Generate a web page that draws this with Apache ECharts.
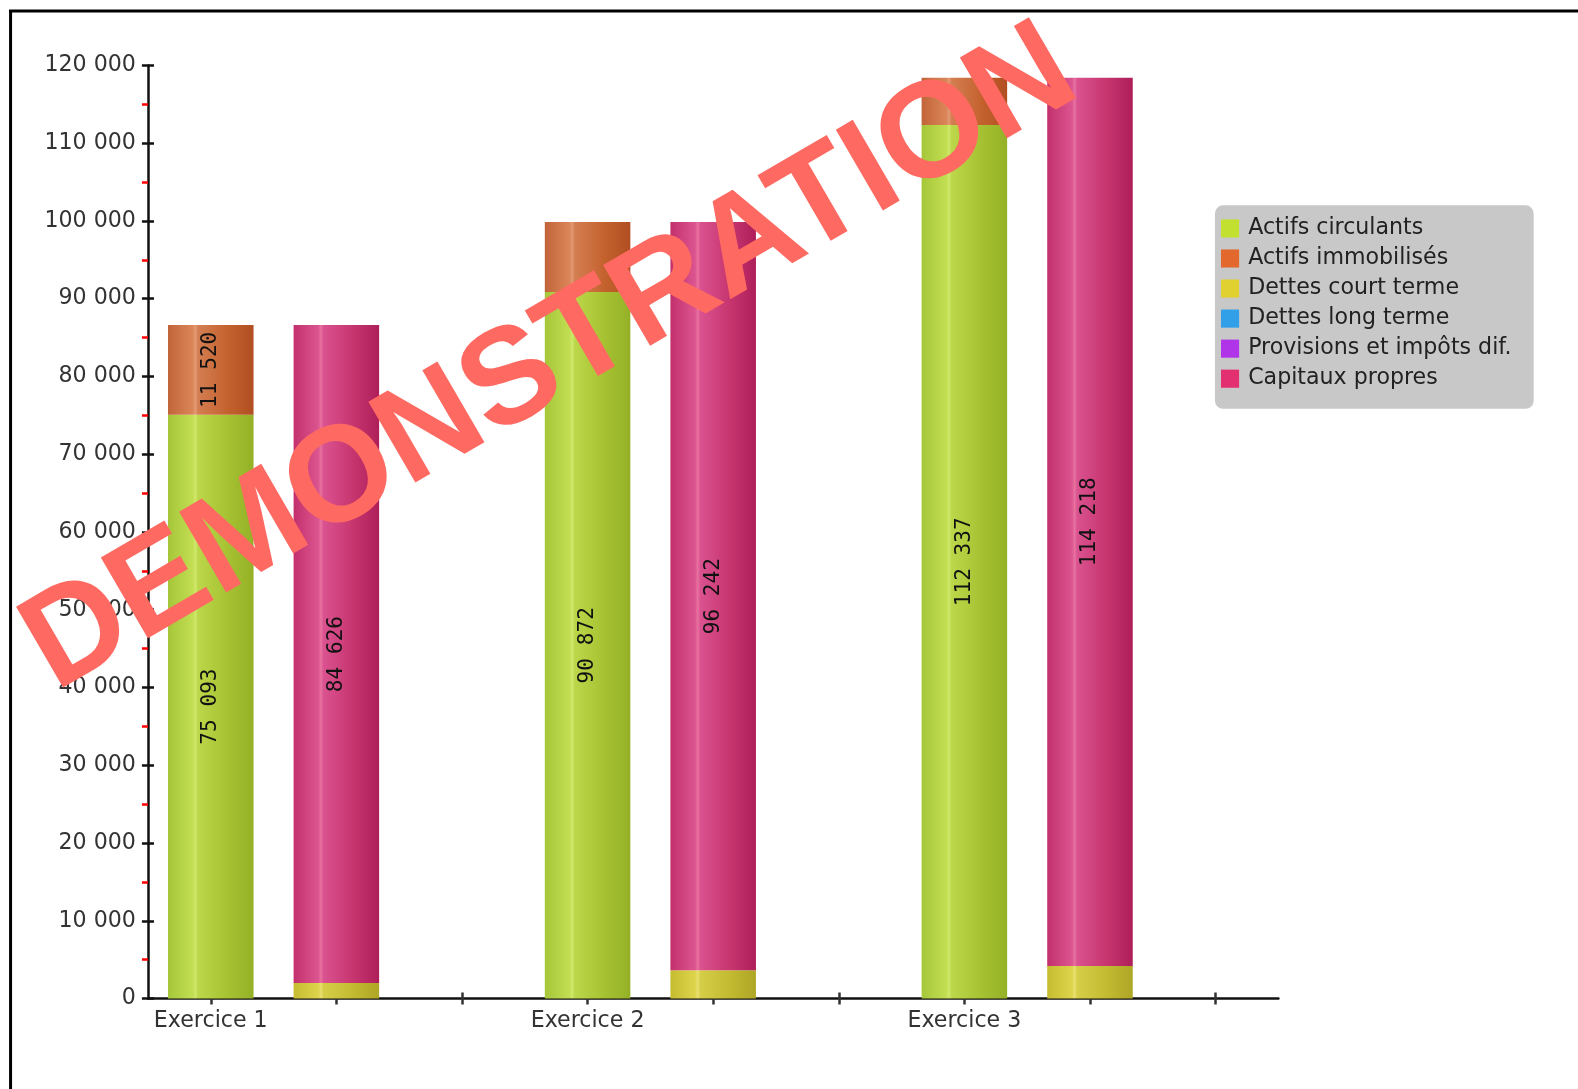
<!DOCTYPE html>
<html>
<head>
<meta charset="utf-8">
<script src="https://cdn.jsdelivr.net/npm/echarts@6/dist/echarts.min.js"></script>
<style>
  html, body { margin: 0; padding: 0; background: #fff; overflow: hidden; }
  #chart { width: 100vw; height: 100vh; }
</style>
</head>
<body>
<div id="chart"></div>
<script>
// ---- Data ----
var categories = ['Exercice 1', 'Exercice 2', 'Exercice 3'];
var actifsCirculants = [75093, 90872, 112337];
var actifsImmobilises = [11520, 8995, 6081];
var dettesCourtTerme = [1987, 3625, 4200];
var dettesLongTerme = [0, 0, 0];
var provisions = [0, 0, 0];
var capitauxPropres = [84626, 96242, 114218];
var yTicks = [0, 10000, 20000, 30000, 40000, 50000, 60000, 70000, 80000, 90000, 100000, 110000, 120000];
var seriesNames = ['Actifs circulants', 'Actifs immobilisés', 'Dettes court terme', 'Dettes long terme', 'Provisions et impôts dif.', 'Capitaux propres'];

// ---- helpers ----
function fmt(v) { return String(v).replace(/\B(?=(\d{3})+(?!\d))/g, ' '); }
var slotLabels = [];
categories.forEach(function (c) { slotLabels.push(c, '', ''); });
function slots(arr, offset) {
  var out = [];
  for (var i = 0; i < categories.length * 3; i++) out.push(null);
  arr.forEach(function (v, g) { out[g * 3 + offset] = v; });
  return out;
}
function grad(c0, c1, c2, c3, c4, c5) {
  return new echarts.graphic.LinearGradient(0, 0, 1, 0, [
    { offset: 0, color: c0 }, { offset: 0.29, color: c1 }, { offset: 0.32, color: c2 },
    { offset: 0.35, color: c3 }, { offset: 0.7, color: c4 }, { offset: 1, color: c5 }
  ]);
}
var fills = [
  grad('#a6c63a', '#c2de52', '#d0e86c', '#bcd84a', '#a6c232', '#94b026'),
  grad('#c2643a', '#da8658', '#e49a74', '#d47e52', '#c4622e', '#b04e22'),
  grad('#c6bc30', '#ddd44c', '#e8e070', '#d6ce48', '#c2ba30', '#aea626'),
  grad('#2a86c8', '#4aa8e8', '#6abaf0', '#44a2e0', '#2e8cd0', '#2278b8'),
  grad('#9a2ac8', '#b64ae8', '#c46af0', '#b044e0', '#9c2ed0', '#8422b8'),
  grad('#c2306c', '#dc5590', '#e8729f', '#da5290', '#c6356e', '#ae1f5a')
];
var legendColors = ['#c2e030', '#e2682e', '#e0d030', '#32a0e8', '#b034e8', '#e23070'];
var dataSets = [
  slots(actifsCirculants, 0), slots(actifsImmobilises, 0),
  slots(dettesCourtTerme, 1), slots(dettesLongTerme, 1), slots(provisions, 1), slots(capitauxPropres, 1)
];

var chart = echarts.init(document.getElementById('chart'));
var W = chart.getWidth(), H = chart.getHeight();
var corr = 1.0066;
var kx = W / 1578 * corr, ky = H / 1089 * corr, k = Math.min(kx, ky);
function X(v) { return v * kx; }
function Y(v) { return v * ky; }
function S(v) { return v * k; }

var series = seriesNames.map(function (n, i) {
  return {
    name: n, type: 'bar', stack: 'bilan', barWidth: '68.1%',
    data: dataSets[i],
    itemStyle: { color: fills[i] },
    label: {
      show: true, position: 'inside', rotate: 90,
      fontFamily: 'DejaVu Sans Mono', fontSize: S(21), color: '#111',
      formatter: function (p) { return (p.value != null && p.value >= 10000) ? fmt(p.value) : ''; }
    },
    emphasis: { disabled: true }
  };
});

chart.setOption({
  animation: false,
  backgroundColor: '#fff',
  grid: { left: X(147), right: W - X(1270), top: Y(65), bottom: H - Y(992), containLabel: false },
  legend: {
    orient: 'vertical', left: X(1207), top: Y(204),
    backgroundColor: '#c8c8c8', borderRadius: S(8),
    padding: [Y(12), X(22), Y(19), X(6)],
    itemWidth: S(18), itemHeight: S(18), itemGap: Y(8),
    icon: 'rect',
    selectedMode: false,
    textStyle: { fontFamily: 'DejaVu Sans', fontSize: S(22), color: '#222', padding: [0, 0, 0, S(4)] },
    data: seriesNames.map(function (n, i) { return { name: n, itemStyle: { color: legendColors[i] } }; })
  },
  xAxis: [{
    type: 'category', data: slotLabels, boundaryGap: true,
    axisLine: { lineStyle: { color: '#111', width: 2.5 } },
    axisTick: { show: true, alignWithLabel: true, length: S(6), lineStyle: { color: '#333', width: 2.5 },
      interval: function () { return true; } },
    axisLabel: { interval: 0, margin: S(12), fontFamily: 'DejaVu Sans', fontSize: S(22), color: '#333' },
    splitLine: { show: false }
  }, {
    type: 'category', data: slotLabels, position: 'bottom', boundaryGap: true,
    axisLine: { show: false },
    axisTick: { show: true, inside: true, alignWithLabel: true, length: S(6), lineStyle: { color: '#333', width: 2.5 },
      interval: function (idx) { return idx % 3 === 2; } },
    axisLabel: { show: false },
    splitLine: { show: false }
  }],
  yAxis: [{
    type: 'value', min: 0, max: 120000, interval: 10000,
    axisLine: { show: true, lineStyle: { color: '#111', width: 2.5 } },
    axisTick: { show: true, length: S(6), lineStyle: { color: '#111', width: 2.5 } },
    minorTick: { show: true, splitNumber: 2, length: S(6), lineStyle: { color: '#ff0000', width: 2.5 } },
    axisLabel: { margin: S(12), fontFamily: 'DejaVu Sans', fontSize: S(22), color: '#333',
      formatter: function (v) { return yTicks.indexOf(v) >= 0 ? fmt(v) : ''; } },
    splitLine: { show: false }
  }, {
    type: 'value', min: 0, max: 120000, interval: 10000, position: 'left',
    axisLine: { show: false },
    axisTick: { show: true, inside: true, length: S(6), lineStyle: { color: '#111', width: 2.5 } },
    axisLabel: { show: false },
    splitLine: { show: false }
  }],
  series: series,
  graphic: [
    { type: 'line', shape: { x1: X(9), y1: Y(11), x2: W, y2: Y(11) }, style: { stroke: '#000', lineWidth: 3 }, z: 200 },
    { type: 'line', shape: { x1: X(10.5), y1: Y(10), x2: X(10.5), y2: H }, style: { stroke: '#000', lineWidth: 3 }, z: 200 },
    {
      type: 'text', x: X(547), y: Y(358), rotation: 0.527, z: 150,
      style: {
        text: 'DEMONSTRATION', fill: '#fe6a62',
        font: 'bold ' + S(135) + 'px "Liberation Sans", Arial, sans-serif',
        textAlign: 'center', textVerticalAlign: 'middle'
      }
    }
  ]
});
</script>
</body>
</html>
